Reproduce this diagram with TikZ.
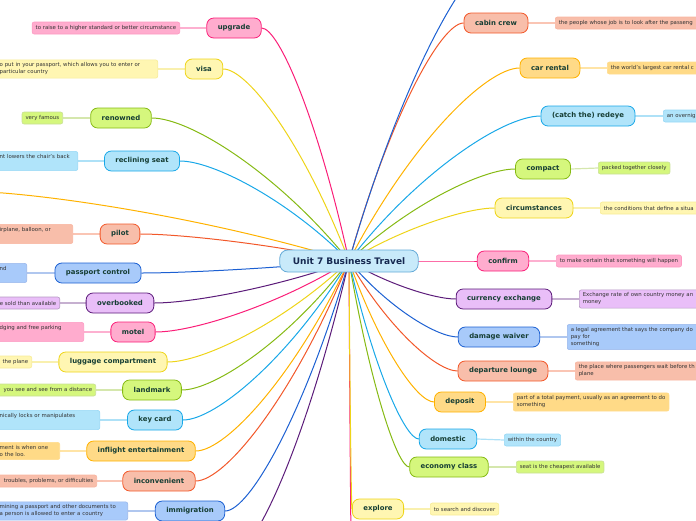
\documentclass[tikz,border=0pt]{standalone}
\usepackage{fontspec}
\setmainfont{DejaVu Sans}
\usetikzlibrary{calc}
\definecolor{pk}{RGB}{250,30,120}\definecolor{pkfill}{RGB}{255,172,206}
\definecolor{yl}{RGB}{238,212,25}\definecolor{ylfill}{RGB}{255,246,178}
\definecolor{gr}{RGB}{134,186,20}\definecolor{grfill}{RGB}{213,247,125}
\definecolor{cy}{RGB}{25,168,232}\definecolor{cyfill}{RGB}{176,228,250}
\definecolor{am}{RGB}{255,178,0}\definecolor{amfill}{RGB}{255,218,135}
\definecolor{rd}{RGB}{242,88,42}\definecolor{rdfill}{RGB}{248,190,170}
\definecolor{bl}{RGB}{28,96,210}\definecolor{blfill}{RGB}{168,202,250}
\definecolor{pu}{RGB}{92,28,122}\definecolor{pufill}{RGB}{233,190,248}
\definecolor{cfill}{RGB}{200,234,250}\definecolor{cline}{RGB}{100,170,215}
\definecolor{ink}{RGB}{22,62,52}\definecolor{navy}{RGB}{22,40,80}
\pgfdeclarelayer{bg}
\pgfsetlayers{bg,main}

\begin{document}
\begin{tikzpicture}[x=1pt,y=-1pt,
        topic/.style={draw=#1,fill=#1fill,rounded corners=7pt,line width=0.8pt,minimum height=20pt,inner xsep=11pt,text=ink,font=\fontsize{6.9}{8}\selectfont\bfseries},
        def/.style={draw=#1!45,fill=#1fill,rounded corners=2pt,line width=0.6pt,inner xsep=3.5pt,inner ysep=3pt,minimum height=12pt,text=black!80,font=\fontsize{5.4}{7}\selectfont,align=left},
        link/.style={draw=#1!35,line width=1.2pt},
        branch/.style={draw=#1,line width=1pt,to path={let \p1=(\tikztostart),\p2=(\tikztotarget) in
            .. controls ({(\x1)+0.35*((\x2)-(\x1))},{(\y1)+0.6*((\y2)-(\y1))}) and ({(\x2)-0.2*((\x2)-(\x1))},\y2) .. (\tikztotarget)}}]
        \useasboundingbox (0,0) rectangle (696,520);
        \node[draw=cline,fill=cfill,rounded corners=8pt,line width=0.8pt,minimum height=22pt,inner xsep=13pt,text=navy,font=\fontsize{9}{10}\selectfont\bfseries] (c) at (349,261) {Unit 7 Business Travel};

        \node[topic=pk] (upgrade) at (234,28) {upgrade};
        \node[topic=yl] (visa) at (204,69) {visa};
        \node[topic=gr] (renowned) at (121,118) {renowned};
        \node[topic=cy] (reclining) at (142,161) {reclining seat};
        \node[topic=rd] (pilot) at (120,234) {pilot};
        \node[topic=bl] (passport) at (98,273) {passport control};
        \node[topic=pu] (overbooked) at (120,303) {overbooked};
        \node[topic=pk] (motel) at (133,332) {motel};
        \node[topic=yl] (luggage) at (113,362) {luggage compartment};
        \node[topic=gr] (landmark) at (152,390) {landmark};
        \node[topic=cy] (keycard) at (155,420) {key card};
        \node[topic=am] (inflight) at (141,451) {inflight entertainment};
        \node[topic=rd] (inconvenient) at (159,481) {inconvenient};
        \node[topic=bl] (immigration) at (190,511) {immigration};

        \node[topic=rd] (cabincrew) at (496,23) {cabin crew};
        \node[topic=am] (carrental) at (550,68) {car rental};
        \node[topic=cy] (redeye) at (588,116) {(catch the) redeye};
        \node[topic=gr] (compact) at (543,169) {compact};
        \node[topic=yl] (circumstances) at (534,208) {circumstances};
        \node[topic=pk] (confirm) at (503,261) {confirm};
        \node[topic=pu] (currency) at (504,299) {currency exchange};
        \node[topic=bl] (damage) at (499,337) {damage waiver};
        \node[topic=rd] (departure) at (503,371) {departure lounge};
        \node[topic=am] (deposit) at (460,402) {deposit};
        \node[topic=cy] (domestic) at (448,439) {domestic};
        \node[topic=gr] (economy) at (449,467) {economy class};
        \node[topic=yl] (explore) at (378,509) {explore};

        \coordinate (offleft) at (-40,191);
        \coordinate (offtop) at (500,-45);
        \coordinate (offbottom) at (232,555);
        \coordinate (offdown) at (352,600);

        \node[def=pk,anchor=east] (upgrade-def) at (180,28) {to raise to a higher standard or better circumstance};
        \node[def=yl,anchor=east,text width=154.5pt] (visa-def) at (158,69) {o put in your passport, which allows you to enter or\\particular country};
        \node[def=gr,anchor=east] (renowned-def) at (63,118) {very famous};
        \node[def=cy,anchor=east,text width=74.5pt] (reclining-def) at (78,161) {nt lowers the chair's back\\\strut};
        \node[def=rd,anchor=east,text width=69.5pt] (pilot-def) at (73,234) {irplane, balloon, or\\\strut};
        \node[def=bl,anchor=east,text width=23.5pt] (passport-def) at (27,273) {nd\\\strut};
        \node[def=pu,anchor=east,text width=70pt,align=right] (overbooked-def) at (60,303) {e sold than available};
        \node[def=pk,anchor=east,text width=80.5pt] (motel-def) at (84,332) {dging and free parking\\\strut};
        \node[def=yl,anchor=east,text width=40pt,align=right] (luggage-def) at (32,362) {the plane};
        \node[def=gr,anchor=east,text width=105pt,align=right] (landmark-def) at (96,390) {you see and see from a distance};
        \node[def=cy,anchor=east,text width=96.5pt] (keycard-def) at (100,420) {nically locks or manipulates\\\strut};
        \node[def=am,anchor=east,text width=56.5pt] (inflight-def) at (60,451) {ment is when one\\o the loo.};
        \node[def=rd,anchor=east,text width=105pt,align=right] (inconvenient-def) at (97,481) {troubles, problems, or difficulties};
        \node[def=bl,anchor=east,text width=124.5pt] (immigration-def) at (128,511) {mining a passport and other documents to\\a person is allowed to enter a country};

        \node[def=rd,anchor=west,text width=170pt] (cabincrew-def) at (555,23) {the people whose job is to look after the passeng};
        \node[def=am,anchor=west,text width=120pt] (carrental-def) at (607,68) {the world's largest car rental c};
        \node[def=cy,anchor=west,text width=60pt] (redeye-def) at (663,116) {an overnig};
        \node[def=gr,anchor=west] (compact-def) at (598,168) {packed together closely};
        \node[def=yl,anchor=west,text width=130pt] (circumstances-def) at (600,208) {the conditions that define a situa};
        \node[def=pk,anchor=west] (confirm-def) at (556,261) {to make certain that something will happen};
        \node[def=pu,anchor=west,text width=150pt] (currency-def) at (579,299) {Exchange rate of own country money an\\money};
        \node[def=bl,anchor=west,text width=160pt] (damage-def) at (567,337) {a legal agreement that says the company do\\pay for\\something};
        \node[def=rd,anchor=west,text width=150pt] (departure-def) at (575,371) {the place where passengers wait before th\\plane};
        \node[def=am,anchor=west] (deposit-def) at (513,402) {part of a total payment, usually as an agreement to do\\something};
        \node[def=cy,anchor=west] (domestic-def) at (504,440) {within the country};
        \node[def=gr,anchor=west] (economy-def) at (516,467) {seat is the cheapest available};
        \node[def=yl,anchor=west] (explore-def) at (430,509) {to search and discover};

        \begin{pgfonlayer}{bg}
        \draw[branch=pk] (c.center) to (upgrade.east);
        \draw[branch=yl] (c.center) to (visa.east);
        \draw[branch=gr] (c.center) to (renowned.east);
        \draw[branch=cy] (c.center) to (reclining.east);
        \draw[branch=am] (c.center) to (offleft);
        \draw[branch=rd] (c.center) to (pilot.east);
        \draw[branch=bl] (c.center) to (passport.east);
        \draw[branch=pu] (c.center) to (overbooked.east);
        \draw[branch=pk] (c.center) to (motel.east);
        \draw[branch=yl] (c.center) to (luggage.east);
        \draw[branch=gr] (c.center) to (landmark.east);
        \draw[branch=cy] (c.center) to (keycard.east);
        \draw[branch=am] (c.center) to (inflight.east);
        \draw[branch=rd] (c.center) to (inconvenient.east);
        \draw[branch=bl] (c.center) to (immigration.east);
        \draw[branch=pu] (c.center) to (offbottom);
        \draw[branch=pk] (c.center) to (offdown);
        \draw[branch=yl] (c.center) to (explore.west);
        \draw[branch=gr] (c.center) to (economy.west);
        \draw[branch=cy] (c.center) to (domestic.west);
        \draw[branch=am] (c.center) to (deposit.west);
        \draw[branch=rd] (c.center) to (departure.west);
        \draw[branch=bl] (c.center) to (damage.west);
        \draw[branch=pu] (c.center) to (currency.west);
        \draw[branch=pk] (c.center) to (confirm.west);
        \draw[branch=yl] (c.center) to (circumstances.west);
        \draw[branch=gr] (c.center) to (compact.west);
        \draw[branch=cy] (c.center) to (redeye.west);
        \draw[branch=am] (c.center) to (carrental.west);
        \draw[branch=rd] (c.center) to (cabincrew.west);
        \draw[branch=bl] (c.center) to (offtop);

        \foreach \t/\k in {upgrade/pk,visa/yl,renowned/gr,reclining/cy,pilot/rd,passport/bl,overbooked/pu,motel/pk,luggage/yl,landmark/gr,keycard/cy,inflight/am,inconvenient/rd,immigration/bl}
            \draw[link=\k] (\t.west) -- (\t-def.east);
        \foreach \t/\k in {cabincrew/rd,carrental/am,redeye/cy,compact/gr,circumstances/yl,confirm/pk,currency/pu,damage/bl,departure/rd,deposit/am,domestic/cy,economy/gr,explore/yl}
            \draw[link=\k] (\t.east) -- (\t-def.west);
        \end{pgfonlayer}
    \end{tikzpicture}
\end{document}
